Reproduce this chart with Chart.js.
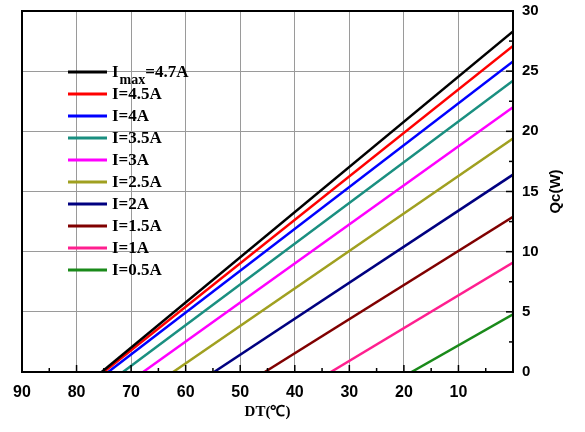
<!DOCTYPE html>
<html>
<head>
<meta charset="utf-8">
<script src="https://cdn.jsdelivr.net/npm/chart.js@4.4.1/dist/chart.umd.min.js"></script>
<style>
  html, body { margin: 0; padding: 0; background: #fff; }
</style>
</head>
<body>
<canvas id="qc-chart" width="585" height="432"></canvas>
<script>
  'use strict';

  // Curves: each one runs from (DT at Qc = 0) up to (Qc at DT = 0).
  const currentLabels = ['Imax=4.7A', 'I=4.5A', 'I=4A', 'I=3.5A', 'I=3A',
    'I=2.5A', 'I=2A', 'I=1.5A', 'I=1A', 'I=0.5A'];
  const dtAtZeroQc = [75.4, 75.0, 74.2, 71.5, 67.8, 62.3, 54.8, 45.5, 33.4, 18.6];
  const qcAtZeroDt = [28.3, 27.1, 25.8, 24.2, 22.0, 19.4, 16.4, 12.9, 9.1, 4.8];
  const lineColors = ['#000000', '#ff0000', '#0000ff', '#1a8f80', '#ff00ff',
    '#a0a020', '#000080', '#800000', '#ff1f8f', '#1a8a1a'];

  const xMin = 0;
  const xMax = 90;
  const yMin = 0;
  const yMax = 30;

  const datasets = currentLabels.map((label, i) => ({
    label: label,
    data: [
      {x: dtAtZeroQc[i], y: 0},
      {x: 0, y: qcAtZeroDt[i]},
    ],
    borderColor: lineColors[i],
    backgroundColor: lineColors[i],
    borderWidth: 2.5,
    showLine: true,
    pointRadius: 0,
    fill: false,
  }));

  // Inward tick marks, the box frame, the right-hand title and the legend.
  const framePlugin = {
    id: 'frame',
    afterDraw(chart) {
      const ctx = chart.ctx;
      const area = chart.chartArea;
      const xs = chart.scales.x;
      const ys = chart.scales.y;
      ctx.save();
      ctx.strokeStyle = '#000';
      ctx.lineWidth = 1.5;
      for (let v = xMin + 5; v < xMax; v += 5) {
        const px = xs.getPixelForValue(v);
        const len = v % 10 === 0 ? 7 : 4;
        ctx.beginPath();
        ctx.moveTo(px, area.bottom);
        ctx.lineTo(px, area.bottom - len);
        ctx.stroke();
      }
      for (let v = yMin + 2.5; v < yMax; v += 2.5) {
        const py = ys.getPixelForValue(v);
        const len = v % 5 === 0 ? 7 : 4;
        ctx.beginPath();
        ctx.moveTo(area.right, py);
        ctx.lineTo(area.right - len, py);
        ctx.stroke();
      }
      ctx.lineWidth = 2;
      ctx.strokeRect(area.left, area.top, area.right - area.left,
        area.bottom - area.top);

      // Right axis title, reading bottom to top.
      ctx.fillStyle = '#000';
      ctx.font = 'bold 15px "Liberation Sans", Arial, sans-serif';
      ctx.textAlign = 'center';
      ctx.textBaseline = 'middle';
      ctx.translate(area.right + 43, (area.top + area.bottom) / 2);
      ctx.rotate(-Math.PI / 2);
      ctx.fillText('Qc(W)', 0, 0);
      ctx.restore();

      // Legend.
      ctx.save();
      const lx = area.left + 46;
      const ly = area.top + 61;
      const step = 22;
      const mainFont = 'bold 17px "Liberation Serif", "Times New Roman", serif';
      ctx.textBaseline = 'middle';
      ctx.textAlign = 'left';
      chart.data.datasets.forEach((ds, i) => {
        const y = ly + i * step;
        ctx.strokeStyle = ds.borderColor;
        ctx.lineWidth = 3;
        ctx.beginPath();
        ctx.moveTo(lx, y);
        ctx.lineTo(lx + 39, y);
        ctx.stroke();
        ctx.fillStyle = '#000';
        let tx = lx + 44;
        let text = ds.label;
        if (text.indexOf('Imax') === 0) {
          ctx.font = mainFont;
          ctx.fillText('I', tx, y + 1);
          tx += ctx.measureText('I').width + 1;
          ctx.font = 'bold 14px "Liberation Serif", "Times New Roman", serif';
          ctx.fillText('max', tx, y + 8);
          tx += ctx.measureText('max').width;
          text = text.slice(4);
        }
        ctx.font = mainFont;
        ctx.fillText(text, tx, y + 1);
      });
      ctx.restore();
    },
  };

  const config = {
    type: 'scatter',
    data: {datasets: datasets},
    options: {
      responsive: false,
      animation: false,
      layout: {padding: {left: 22, top: 11, right: 0, bottom: 0}},
      plugins: {
        legend: {display: false},
        tooltip: {enabled: false},
      },
      scales: {
        x: {
          type: 'linear',
          position: 'bottom',
          reverse: true,
          min: xMin,
          max: xMax,
          afterFit: (scale) => {
            scale.height = 60;
            scale.paddingLeft = 0;
            scale.paddingRight = 0;
          },
          grid: {color: '#9a9a9a', lineWidth: 1, drawTicks: false},
          border: {display: false},
          ticks: {
            stepSize: 10,
            padding: 11,
            color: '#000',
            font: {family: '"Liberation Sans", Arial, sans-serif', size: 16, weight: 'bold'},
            callback: (v) => (v === 0 ? '' : v),
          },
          title: {
            display: true,
            text: 'DT(℃)',
            color: '#000',
            padding: {top: 0, bottom: 11},
            font: {family: '"Liberation Serif", "Times New Roman", serif', size: 15, weight: 'bold'},
          },
        },
        y: {
          type: 'linear',
          position: 'right',
          min: yMin,
          max: yMax,
          afterFit: (scale) => {
            scale.width = 72;
            scale.paddingTop = 0;
            scale.paddingBottom = 0;
          },
          grid: {color: '#9a9a9a', lineWidth: 1, drawTicks: false},
          border: {display: false},
          ticks: {
            stepSize: 5,
            padding: 9,
            color: '#000',
            font: {family: '"Liberation Sans", Arial, sans-serif', size: 15, weight: 'bold'},
          },
        },
      },
    },
    plugins: [framePlugin],
  };

  const qcChart = new Chart(document.getElementById('qc-chart'), config);
</script>
</body>
</html>
